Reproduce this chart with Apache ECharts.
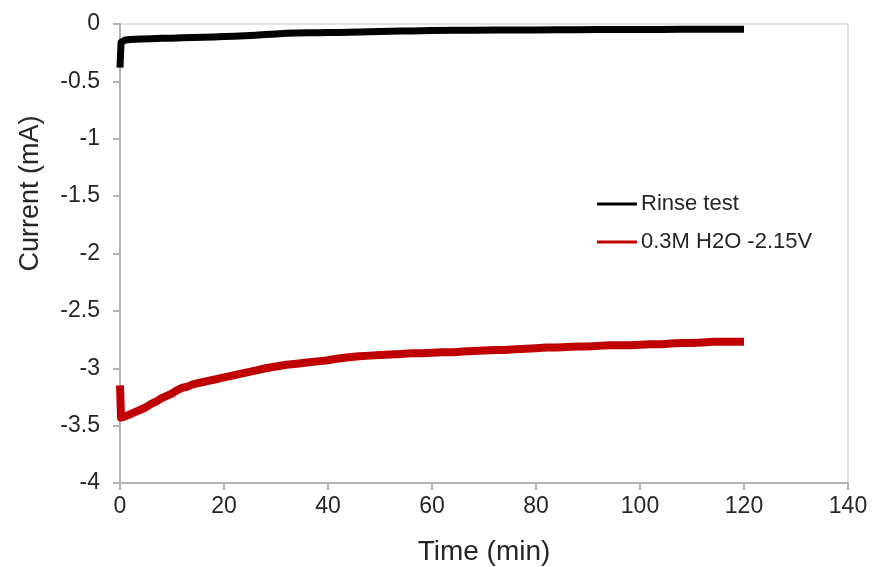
<!DOCTYPE html>
<html>
<head>
<meta charset="utf-8">
<script src="https://cdn.jsdelivr.net/npm/echarts@6/dist/echarts.min.js"></script>
<style>
  html, body { margin: 0; padding: 0; background: #fff; }
  #chart { width: 873px; height: 567px; }
</style>
</head>
<body>
<div id="chart"></div>
<script>
// Chronoamperometry traces: current vs. time
const rinseTime = [0, 0.2, 1, 2, 4, 6, 8, 10, 12, 14, 16, 18, 20, 22, 24, 26, 28, 30, 32, 34, 36, 38, 40,
  42, 44, 46, 48, 50, 52, 54, 56, 58, 60, 64, 68, 72, 76, 80, 84, 88, 92, 96, 100, 104, 108, 112, 116, 120];
const rinseCurrent = [-0.38, -0.16, -0.14, -0.135, -0.13, -0.128, -0.125, -0.124, -0.12, -0.118, -0.115, -0.113, -0.11, -0.106, -0.102, -0.097, -0.092, -0.087, -0.08, -0.079, -0.077, -0.076, -0.075,
  -0.073, -0.071, -0.07, -0.068, -0.066, -0.064, -0.062, -0.06, -0.058, -0.056, -0.055, -0.054, -0.053, -0.052, -0.052, -0.051, -0.05, -0.049, -0.048, -0.048, -0.047, -0.046, -0.046, -0.045, -0.045];

const waterTime = [0, 0.2, 1, 2, 3, 4, 5, 6, 7, 8, 9, 10, 11, 12, 13, 14, 15, 16, 17, 18, 19, 20, 22, 24, 26, 28, 30, 32, 34, 36, 38, 40,
  42, 44, 46, 48, 50, 52, 54, 56, 58, 60, 62, 64, 66, 68, 70, 72, 74, 76, 78, 80, 82, 84, 86, 88, 90,
  92, 94, 96, 98, 100, 102, 104, 106, 108, 110, 112, 114, 116, 118, 120];
const waterCurrent = [-3.15, -3.43, -3.42, -3.40, -3.38, -3.36, -3.34, -3.31, -3.29, -3.26, -3.24, -3.22, -3.19, -3.17, -3.16, -3.14, -3.13, -3.12, -3.11, -3.10, -3.09, -3.08, -3.06, -3.04, -3.02, -3.00, -2.985, -2.97, -2.96, -2.95, -2.94, -2.93,
  -2.915, -2.905, -2.895, -2.89, -2.885, -2.88, -2.875, -2.87, -2.87, -2.865, -2.86, -2.86, -2.855, -2.85, -2.845, -2.84, -2.84, -2.835, -2.83, -2.825, -2.82, -2.82, -2.815, -2.81, -2.81,
  -2.805, -2.80, -2.80, -2.80, -2.795, -2.79, -2.79, -2.785, -2.78, -2.78, -2.775, -2.77, -2.77, -2.77, -2.77];

const seriesNames = ['Rinse test', '0.3M H2O -2.15V'];

const pair = (xs, ys) => xs.map((x, i) => [x, ys[i]]);

const font = '"Liberation Sans", Arial, sans-serif';
const textColor = '#262626';
const axisGrey = '#b3b3b3';

const chart = echarts.init(document.getElementById('chart'), null, { renderer: 'canvas' });
chart.setOption({
  animation: false,
  backgroundColor: '#fff',
  textStyle: { fontFamily: font },
  grid: {
    left: 120, right: 25, top: 24, bottom: 84,
    outerBoundsMode: 'none',
    show: true, borderColor: '#d9d9d9', borderWidth: 1.5
  },
  legend: {
    orient: 'vertical',
    left: 597, top: 193, padding: 0,
    itemWidth: 40, itemHeight: 3, itemGap: 16,
    icon: 'rect',
    textStyle: { fontFamily: font, fontSize: 22, color: textColor, padding: [0, 0, 0, -1] },
    data: seriesNames
  },
  xAxis: {
    type: 'value',
    min: 0, max: 140, interval: 20,
    name: 'Time (min)', nameLocation: 'middle', nameGap: 55,
    nameTextStyle: { fontFamily: font, fontSize: 28, color: textColor },
    axisLine: { show: true, onZero: false, lineStyle: { color: axisGrey, width: 2 } },
    axisTick: { show: true, length: 7, lineStyle: { color: axisGrey, width: 2 } },
    axisLabel: { fontFamily: font, fontSize: 23, color: textColor, margin: 12 },
    splitLine: { show: false }
  },
  yAxis: {
    type: 'value',
    min: -4, max: 0, interval: 0.5,
    name: 'Current (mA)', nameLocation: 'middle', nameGap: 76, nameRotate: 90,
    nameTextStyle: { fontFamily: font, fontSize: 27, color: textColor, padding: [0, 0, 0, 120] },
    axisLine: { show: true, onZero: false, lineStyle: { color: axisGrey, width: 2 } },
    axisTick: { show: true, length: 7, lineStyle: { color: axisGrey, width: 2 } },
    axisLabel: { fontFamily: font, fontSize: 23, color: textColor, margin: 20 },
    splitLine: { show: false }
  },
  series: [
    {
      name: seriesNames[0], type: 'line', showSymbol: false, symbol: 'none',
      data: pair(rinseTime, rinseCurrent),
      lineStyle: { color: '#000000', width: 7, join: 'round' },
      itemStyle: { color: '#000000' }
    },
    {
      name: seriesNames[1], type: 'line', showSymbol: false, symbol: 'none',
      data: pair(waterTime, waterCurrent),
      lineStyle: { color: '#c00000', width: 8, join: 'round' },
      itemStyle: { color: '#c00000' }
    }
  ]
});
</script>
</body>
</html>
